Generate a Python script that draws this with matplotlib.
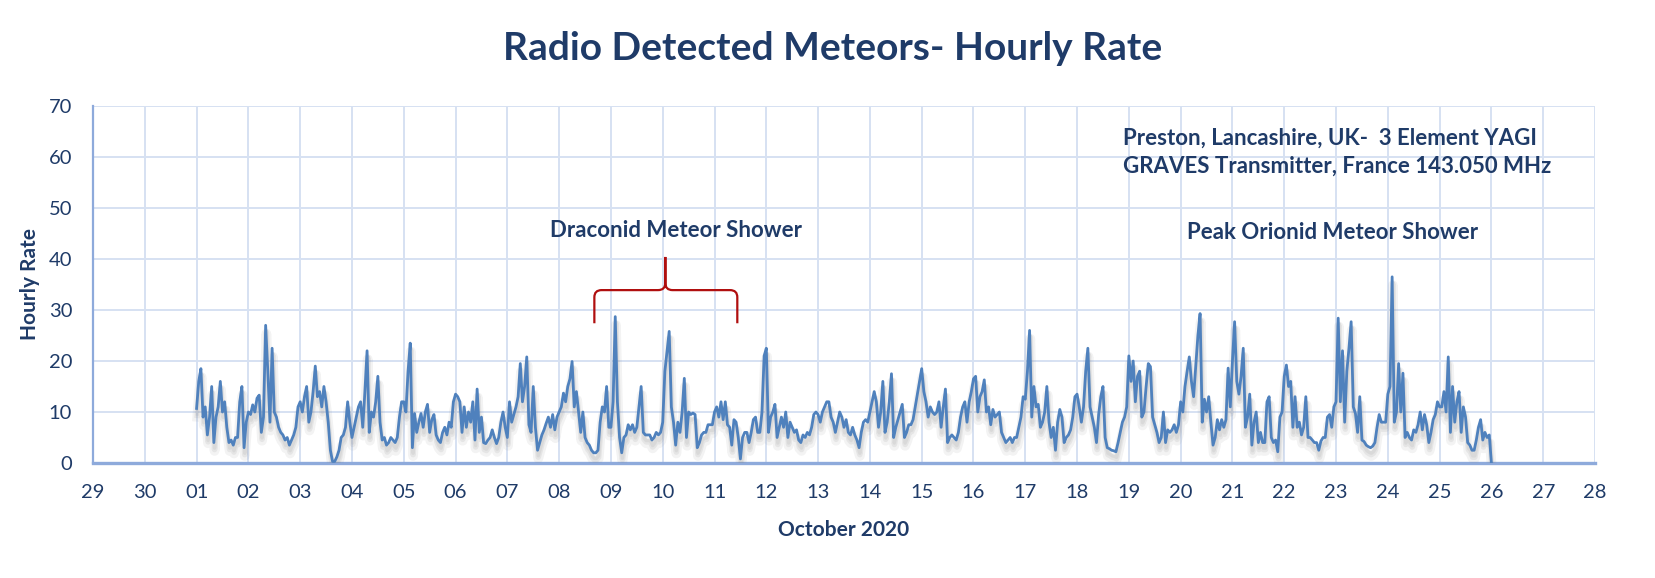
import numpy as np
import matplotlib
matplotlib.use('Agg')
import matplotlib.pyplot as plt
import matplotlib.patheffects as pe
from matplotlib.path import Path
from matplotlib.patches import PathPatch

plt.rcParams['font.family'] = ['Lato', 'DejaVu Sans']

###################
#      Data       #
###################
# hourly meteor counts, one list per day (00h..23h), October 2020
oct01 = [10.7, 16, 18.5, 9, 11, 5.5, 9, 15, 4, 9, 11, 16, 10, 12, 7, 4, 4.5, 3.5, 5, 5, 12, 15, 3, 8]
oct02 = [10, 9.5, 11.4, 10, 12.7, 13.3, 6, 9, 27, 18, 8, 22.5, 10, 9, 7, 6, 5.5, 4.5, 5, 3.5, 4.5, 5.5, 7, 11]
oct03 = [12, 10, 13, 15, 8, 10, 14, 19, 13, 14, 11, 15, 12, 8, 2.5, 0.3, 0.3, 1.2, 2.5, 5, 5.5, 7, 12, 8]
oct04 = [5, 7, 9, 11, 12, 7, 14, 22, 6, 10, 9, 12, 17, 8, 4.5, 5, 3.5, 4, 5, 4.5, 4, 5, 9, 12]
oct05 = [12, 10, 18, 23.5, 3, 9.7, 6, 8, 9.7, 7, 10, 11.5, 6, 8.5, 9.5, 5.5, 4.5, 4, 6, 7, 5.5, 8, 7, 12]
oct06 = [13.5, 13, 12, 6, 11, 7, 10, 8, 12, 4.5, 14.5, 6, 9, 4, 3.8, 4.5, 5, 6.5, 5, 3.8, 5, 8, 10, 7]
oct07 = [5, 12, 8, 9.5, 11, 13, 19.5, 12, 15, 20.8, 7.5, 6, 15, 7, 2.5, 4, 5.5, 6.5, 7.8, 9, 7, 9.5, 6.5, 9]
oct08 = [10, 11, 13.7, 12, 15, 16.5, 19.9, 11, 14, 10, 6, 10, 5, 4, 3.5, 2.5, 2, 2, 2.5, 8, 11, 10, 15, 7]
oct09 = [7, 12, 28.7, 12, 5, 2, 5, 5.5, 7.5, 6.5, 7.5, 6, 7, 11, 15, 6, 5.5, 5.5, 5.5, 4.5, 5, 6, 5.5, 6]
oct10 = [8, 18, 22, 25.8, 11, 8, 3.5, 8, 6, 10, 16.6, 5, 10, 9.5, 9.8, 9.5, 3, 4, 5.5, 6, 6, 7.5, 7.5, 7.5]
oct11 = [10, 11, 9, 12, 8.5, 12, 7.5, 7, 3.5, 8.5, 8, 5, 0.8, 5, 6, 6, 4, 6, 8.5, 9, 6, 6, 10, 21]
oct12 = [22.5, 6, 9, 10, 11.5, 5, 7, 9, 7, 10, 5, 8, 7, 6, 6.5, 4.5, 4, 5.5, 5, 6, 5.5, 7, 9.5, 10]
oct13 = [9.5, 8, 10, 11, 12, 12, 9, 8, 6, 8, 10, 9, 7, 8.5, 6, 5.5, 7, 5.5, 4.5, 3, 6, 8, 8.5, 8]
oct14 = [10, 12, 14, 12, 7, 10, 16, 6, 8, 12, 17.5, 5, 7, 8.5, 10, 11.5, 5, 6, 7.5, 7.5, 8.5, 11, 13.5, 16]
oct15 = [18.5, 14, 12, 9, 11, 10, 9.5, 10, 12, 7, 11, 14.5, 4, 5, 5.5, 5, 4.5, 6, 9, 11, 12, 8, 12, 14]
oct16 = [16.5, 17, 10, 13, 14, 16.3, 10, 11, 7.5, 10.5, 9, 9.5, 10, 6, 5, 4, 4.5, 5, 4, 5, 5, 7, 9, 13]
oct17 = [12.5, 18, 26, 9, 15, 11, 11.5, 7, 8, 10, 15, 8, 5, 7, 2.5, 8, 10.5, 9, 4, 5, 5.5, 6.5, 9, 13]
oct18 = [13.5, 11, 8, 11, 18, 22.5, 11, 9, 7, 4, 9.5, 13, 15, 5, 3, 2.8, 2.5, 2.4, 2.2, 4, 6, 8, 9, 11]
oct19 = [21, 16, 20, 12, 17, 18, 9, 10, 15, 19.5, 18.9, 9, 7.5, 6, 4, 5, 10, 4, 6.5, 6, 6.5, 7.5, 6, 7.5]
oct20 = [12, 10, 15, 18, 20.8, 16, 13, 19, 25, 29.3, 8, 12.5, 10, 13, 8, 3.5, 5, 8.5, 6.5, 8.5, 7, 8.5, 18.6, 11]
oct21 = [20, 27.7, 16, 13.5, 17, 22.5, 7, 9, 13.5, 3.5, 8, 10, 4, 6, 4, 4, 12, 13, 5, 4, 4.5, 2.2, 9, 10]
oct22 = [17, 19.2, 15, 16, 7, 13, 7, 8, 5.5, 7, 13, 5, 5, 4.5, 4, 4, 2.5, 4.3, 5, 5, 9, 9.5, 7, 11]
oct23 = [12, 28.4, 12, 22, 8, 18, 22.5, 27.7, 11, 9.7, 6, 13, 4.5, 4.2, 3.5, 3.2, 3, 3.3, 4, 7, 9.5, 8, 8, 8]
oct24 = [13.5, 15, 36.5, 8, 10, 19.5, 10, 17.6, 5, 6, 5, 4.5, 6.5, 6, 7.5, 10, 6.5, 9.5, 7.5, 4, 6, 8.5, 9.5, 12]
oct25 = [11, 11, 14, 10, 20.8, 6, 15, 8, 12, 14, 6, 11, 9, 4, 3.5, 2.5, 2.5, 4.5, 7, 8.5, 4.5, 6, 5, 5.5]
oct26_00h = [0]

# x tick labels, Sep 29 .. Oct 28 (day offset from Oct 1)
tick_days = list(range(-2, 28))
tick_labels = ['29', '30'] + ['%02d' % d for d in range(1, 29)]

# annotation positions (day offset, hourly rate)
draconid_brace = {'left': 7.68, 'right': 10.44, 'tip': 9.05, 'bottom': 27.4, 'bar': 33.9, 'top': 40.4}

############
#   Main   #
############
days = [oct01, oct02, oct03, oct04, oct05, oct06, oct07, oct08, oct09, oct10,
        oct11, oct12, oct13, oct14, oct15, oct16, oct17, oct18, oct19, oct20,
        oct21, oct22, oct23, oct24, oct25]
rate = np.concatenate([np.array(d, dtype=float) for d in days] + [np.array(oct26_00h, dtype=float)])
t = np.arange(len(rate)) / 24.0

navy = '#1F3B68'
fig = plt.figure(figsize=(16.56, 5.78), dpi=100)
ax = fig.add_axes([93/1656, 1-463/578, (1595-93)/1656, (463-106)/578])

# soft grey drop shadow under the line, like the Excel original
shadow = [pe.SimpleLineShadow(offset=(0.5, -6), shadow_color='#8a8a8a', alpha=0.10, linewidth=7),
          pe.SimpleLineShadow(offset=(0.5, -5), shadow_color='#8a8a8a', alpha=0.13, linewidth=4),
          pe.SimpleLineShadow(offset=(0.5, -4), shadow_color='#8a8a8a', alpha=0.12, linewidth=2.5),
          pe.Normal()]
ax.plot(t, rate, color='#4F81BD', lw=2.0, path_effects=shadow, zorder=3)

ax.set_xlim(-2, 27)
ax.set_ylim(0, 70)
ax.set_xticks(tick_days)
ax.set_xticklabels(tick_labels)
ax.set_yticks(range(0, 71, 10))
ax.grid(True, color='#D6E1F2', lw=1.4)
ax.set_axisbelow(True)
ax.tick_params(length=0, labelsize=14.5, labelcolor=navy)
ax.tick_params(axis='x', pad=15)
ax.tick_params(axis='y', pad=15)
for s in ['top', 'right']:
    ax.spines[s].set_visible(False)
ax.spines['left'].set_color('#8EAADB')
ax.spines['left'].set_linewidth(1.6)
ax.spines['bottom'].set_color('#8EAADB')
ax.spines['bottom'].set_linewidth(2.4)

ax.set_ylabel('Hourly Rate', fontsize=15, fontweight='bold', color=navy, labelpad=6)
ax.set_xlabel('October 2020', fontsize=15, fontweight='bold', color=navy, labelpad=14)
fig.text(0.503, 1-48/578, 'Radio Detected Meteors- Hourly Rate', fontsize=28,
         fontweight='bold', color=navy, ha='center', va='center')

ax.text(17.88, 63.6, 'Preston, Lancashire, UK-  3 Element YAGI', fontsize=16,
        fontweight='bold', color=navy, va='center', ha='left')
ax.text(17.88, 58.2, 'GRAVES Transmitter, France 143.050 MHz', fontsize=16,
        fontweight='bold', color=navy, va='center', ha='left')
ax.text(9.25, 45.5, 'Draconid Meteor Shower', fontsize=16, fontweight='bold',
        color=navy, va='center', ha='center')
ax.text(21.93, 45.1, 'Peak Orionid Meteor Shower', fontsize=16, fontweight='bold',
        color=navy, va='center', ha='center')

# curly brace over the Draconid days
b = draconid_brace
dx, dy = 0.14, 1.4
verts = [(b['left'], b['bottom']), (b['left'], b['bar'] - dy),
         (b['left'], b['bar']), (b['left'] + dx, b['bar']),
         (b['tip'] - dx, b['bar']),
         (b['tip'], b['bar']), (b['tip'], b['bar'] + dy),
         (b['tip'], b['top']),
         (b['tip'], b['bar'] + dy),
         (b['tip'], b['bar']), (b['tip'] + dx, b['bar']),
         (b['right'] - dx, b['bar']),
         (b['right'], b['bar']), (b['right'], b['bar'] - dy),
         (b['right'], b['bottom'])]
codes = [Path.MOVETO, Path.LINETO,
         Path.CURVE3, Path.CURVE3,
         Path.LINETO,
         Path.CURVE3, Path.CURVE3,
         Path.LINETO,
         Path.LINETO,
         Path.CURVE3, Path.CURVE3,
         Path.LINETO,
         Path.CURVE3, Path.CURVE3,
         Path.LINETO]
ax.add_patch(PathPatch(Path(verts, codes), fill=False, edgecolor='#B00F0F', lw=1.6, zorder=4))

plt.savefig('out.png', dpi=100)
